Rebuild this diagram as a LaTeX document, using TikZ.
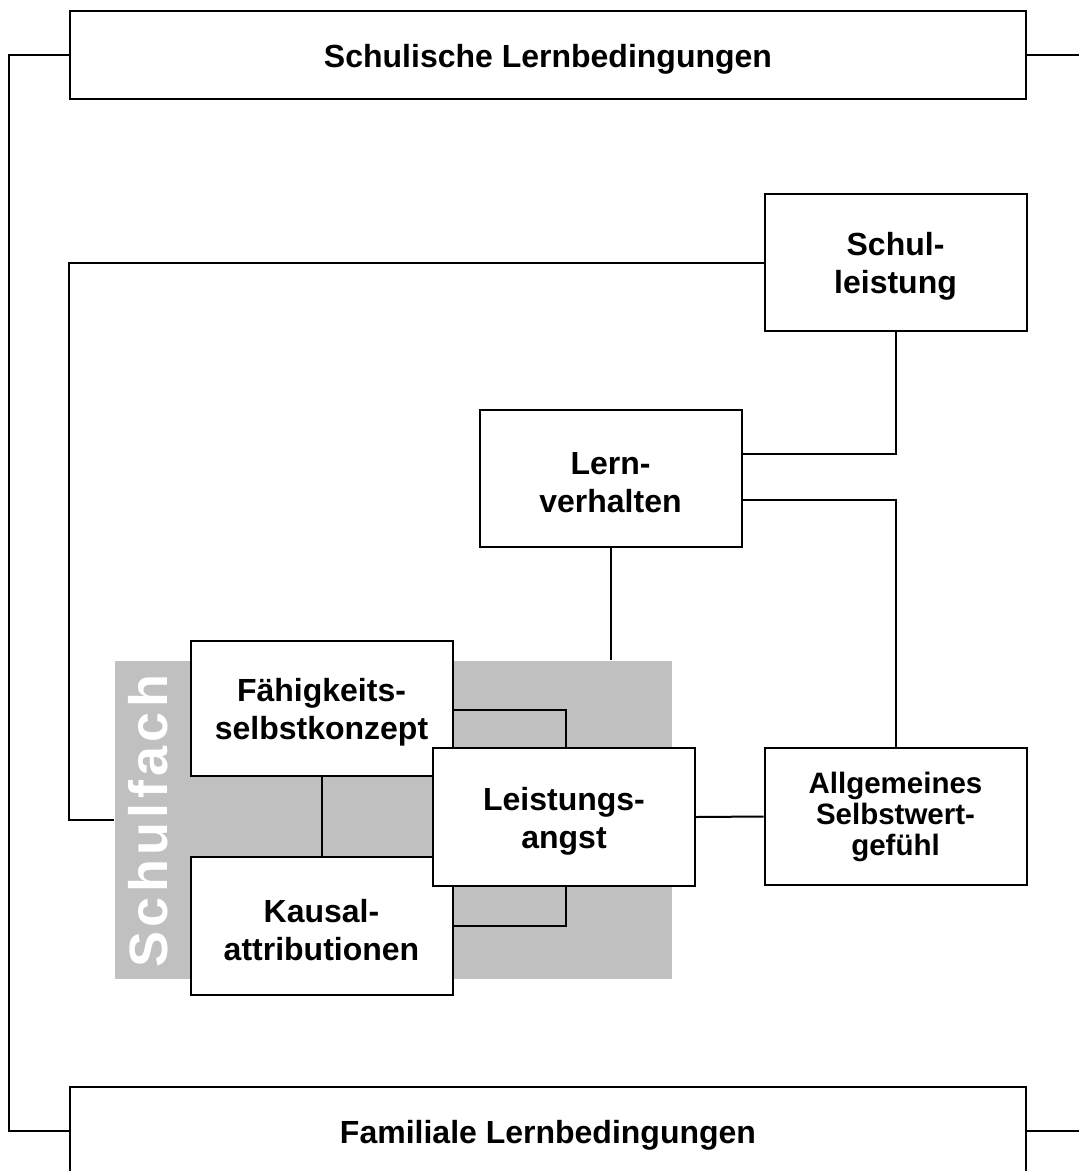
\documentclass[tikz,border=0pt]{standalone}
\usepackage{fontspec}
\setmainfont{Liberation Sans}
\newfontfamily\fachfont[LetterSpace=8]{Liberation Sans}
\definecolor{grau}{HTML}{C0C0C0}
\newcommand\oben{\rule{0pt}{31pt}}
\begin{document}
\begin{tikzpicture}[x=1pt, y=-1pt, line width=2pt,
   kasten/.style={draw, fill=white, align=center, inner sep=0pt,
      minimum width=262pt, minimum height=137pt,
      font=\fontsize{32}{38}\selectfont\bfseries},
   rand/.style={kasten, minimum width=956pt, minimum height=88pt}]
   \clip (0,0) rectangle (1079,1171);
   \node[fill=grau, inner sep=0pt, minimum width=557pt, minimum height=318pt] (fach) at (393.5,820) {};
   \node[rotate=90, text=white, inner sep=0pt, font=\fontsize{54}{54}\fachfont\bfseries] (fachname) at (148,821) {Schulfach};
   \node[rand] (schule) at (548,55) {\oben Schulische Lernbedingungen};
   \node[rand] (familie) at (548,1131) {\oben Familiale Lernbedingungen};
   \draw (schule.west) -- ++(-60,0) |- (familie.west);
   \draw (schule.east) -- ++(60,0);
   \draw (familie.east) -- ++(60,0);
   \node[kasten] (leistung) at (895.5,262.5) {\oben Schul-\\leistung};
   \node[kasten] (lernen) at (610.5,478.5) {\oben Lern-\\verhalten};
   \node[kasten, font=\fontsize{29.5}{31}\selectfont\bfseries] (selbstwert) at (895.5,816.5) {Allgemeines\\Selbstwert-\\gefühl};
   \draw (leistung.west) -- ++(-695,0) |- (fach.west);
   \draw (leistung.south) |- ([yshift=24.5pt]lernen.east);
   \draw ([yshift=-21.5pt]lernen.east) -| (selbstwert.north);
   \draw (lernen.south) -- (lernen.south |- fach.north);
   \node[kasten, minimum height=135pt] (faehig) at (321.5,708.5) {\oben Fähigkeits-\\selbstkonzept};
   \node[kasten, minimum height=138pt] (kausal) at (321.5,926) {\oben Kausal-\\attributionen};
   \draw (faehig.south) -- (kausal.north);
   \draw ([yshift=-1.5pt]faehig.east) -| (566,748);
   \draw (kausal.east) -| (566,886);
   \node[kasten, minimum height=138pt] (angst) at (564,817) {\oben Leistungs-\\angst};
   \draw (angst.east) -- (selbstwert.west);
\end{tikzpicture}
\end{document}
